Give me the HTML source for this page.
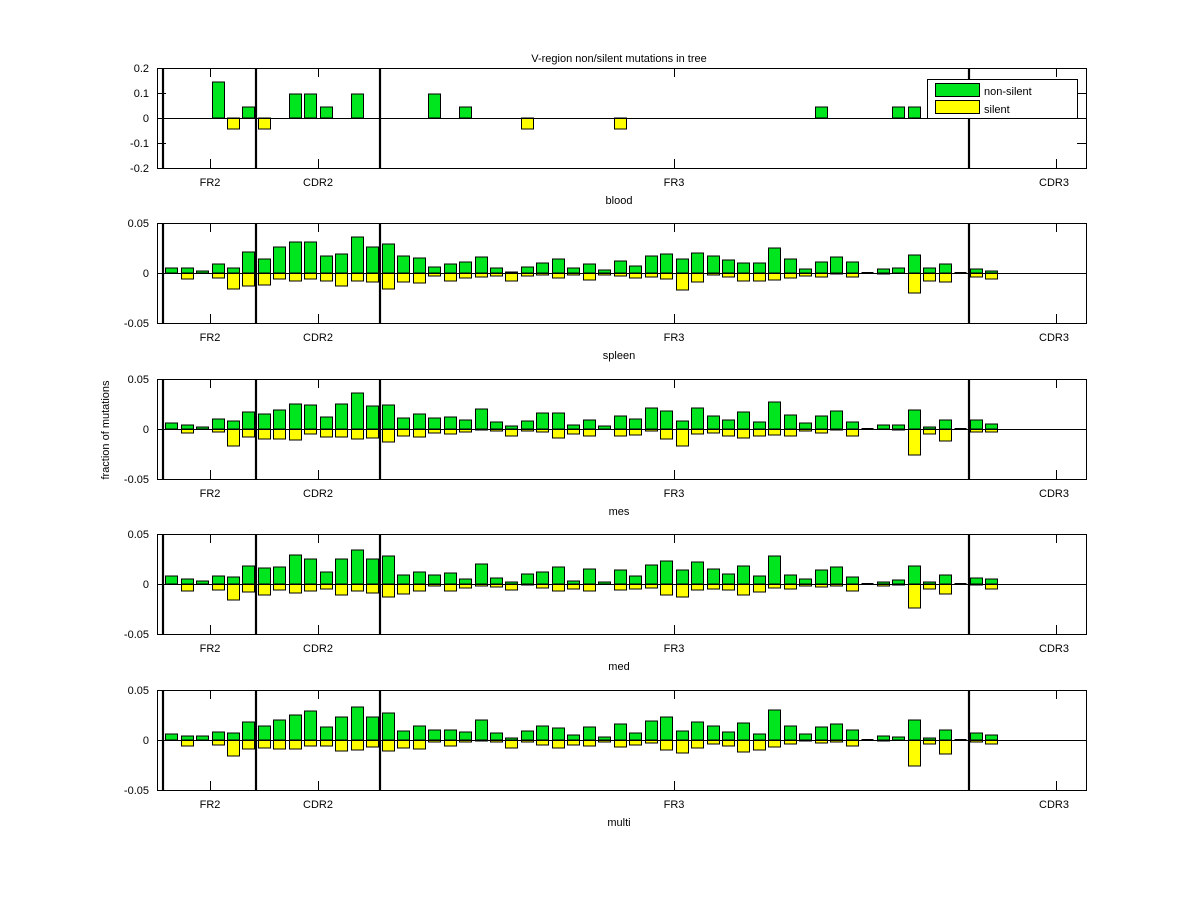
<!DOCTYPE html>
<html><head><meta charset="utf-8"><style>
html,body{margin:0;padding:0;background:#fff;}
svg text{font-family:"Liberation Sans",sans-serif;font-size:11px;fill:#000;}
</style></head><body>
<svg id="s" width="1200" height="901" xmlns="http://www.w3.org/2000/svg">
<rect width="1200" height="901" fill="#fff"/>
<text x="619" y="62" text-anchor="middle">V-region non/silent mutations in tree</text>
<text transform="translate(109,430) rotate(-90)" text-anchor="middle">fraction of mutations</text>
<g id="bars"></g>
<g id="axes" fill="none" stroke="#000"></g>
<g id="labels">
<text x="149" y="72" text-anchor="end">0.2</text>
<text x="149" y="97" text-anchor="end">0.1</text>
<text x="149" y="122" text-anchor="end">0</text>
<text x="149" y="147" text-anchor="end">-0.1</text>
<text x="149" y="172" text-anchor="end">-0.2</text>
<text x="149" y="227" text-anchor="end">0.05</text><text x="149" y="277" text-anchor="end">0</text><text x="149" y="327" text-anchor="end">-0.05</text>
<text x="149" y="383" text-anchor="end">0.05</text><text x="149" y="433" text-anchor="end">0</text><text x="149" y="483" text-anchor="end">-0.05</text>
<text x="149" y="538" text-anchor="end">0.05</text><text x="149" y="588" text-anchor="end">0</text><text x="149" y="638" text-anchor="end">-0.05</text>
<text x="149" y="694" text-anchor="end">0.05</text><text x="149" y="744" text-anchor="end">0</text><text x="149" y="794" text-anchor="end">-0.05</text>
<text x="210" y="186" text-anchor="middle">FR2</text><text x="318" y="186" text-anchor="middle">CDR2</text><text x="674" y="186" text-anchor="middle">FR3</text><text x="1054" y="186" text-anchor="middle">CDR3</text>
<text x="619" y="204" text-anchor="middle">blood</text>
<text x="210" y="341" text-anchor="middle">FR2</text><text x="318" y="341" text-anchor="middle">CDR2</text><text x="674" y="341" text-anchor="middle">FR3</text><text x="1054" y="341" text-anchor="middle">CDR3</text>
<text x="619" y="359" text-anchor="middle">spleen</text>
<text x="210" y="497" text-anchor="middle">FR2</text><text x="318" y="497" text-anchor="middle">CDR2</text><text x="674" y="497" text-anchor="middle">FR3</text><text x="1054" y="497" text-anchor="middle">CDR3</text>
<text x="619" y="515" text-anchor="middle">mes</text>
<text x="210" y="652" text-anchor="middle">FR2</text><text x="318" y="652" text-anchor="middle">CDR2</text><text x="674" y="652" text-anchor="middle">FR3</text><text x="1054" y="652" text-anchor="middle">CDR3</text>
<text x="619" y="670" text-anchor="middle">med</text>
<text x="210" y="808" text-anchor="middle">FR2</text><text x="318" y="808" text-anchor="middle">CDR2</text><text x="674" y="808" text-anchor="middle">FR3</text><text x="1054" y="808" text-anchor="middle">CDR3</text>
<text x="619" y="826" text-anchor="middle">multi</text>
</g>
<g id="legend">
<rect x="927.5" y="79.5" width="150" height="39" fill="#fff" stroke="#000"/>
<rect x="935.5" y="83.5" width="44" height="13" fill="#00e61e" stroke="#000"/>
<rect x="935.5" y="100.5" width="44" height="13" fill="#ffff00" stroke="#000"/>
<text x="984" y="95">non-silent</text>
<text x="984" y="113">silent</text>
</g>
</svg>
<script>
var NS="http://www.w3.org/2000/svg";
function el(t,a,p){var e=document.createElementNS(NS,t);for(var k in a)e.setAttribute(k,a[k]);p.appendChild(e);return e;}
var tops=[68,223,379,534,690];
var g1=new Array(54).fill(0),y1=new Array(54).fill(0);
var G1={3:36,5:11,8:24,9:24,10:11,12:24,17:24,19:11,42:11,47:11,48:11},Y1={4:11,6:11,23:11,29:11};
for(var k in G1)g1[k]=G1[k];for(var k in Y1)y1[k]=Y1[k];
var G=[g1,
[5,5,2,9,5,21,14,26,31,31,17,19,36,26,29,17,15,6,9,11,16,5,1,6,10,14,5,9,3,12,7,17,19,14,20,17,13,10,10,25,14,4,11,16,11,0,4,5,18,5,9,0,4,2],
[6,4,2,10,8,17,15,19,25,24,12,25,36,23,24,11,15,11,12,9,20,7,3,8,16,16,4,9,3,13,10,21,18,8,21,13,9,17,7,27,14,6,13,18,7,0,4,4,19,2,9,0,9,5],
[8,5,3,8,7,18,16,17,29,25,12,25,34,25,28,9,12,9,11,5,20,6,2,10,12,17,3,15,2,14,8,19,23,14,22,15,10,18,8,28,9,5,14,17,7,0,2,4,18,2,9,0,6,5],
[6,4,4,8,7,18,14,20,25,29,13,23,33,23,27,9,14,10,10,8,20,7,2,9,14,12,5,13,3,16,7,19,23,9,18,14,8,17,6,30,14,6,13,16,10,0,4,3,20,2,10,0,7,5]];
var Y=[y1,
[0,6,0,5,16,13,12,6,8,6,8,13,8,9,16,9,10,3,8,5,4,3,8,3,2,5,2,7,2,3,5,4,6,17,9,2,4,8,8,7,5,3,4,1,4,0,1,0,20,8,9,0,4,6],
[0,4,0,3,17,8,10,10,11,5,8,8,10,9,13,7,8,4,5,3,1,2,7,2,3,9,5,7,0,7,6,2,10,17,5,4,7,9,7,6,7,2,4,1,7,0,0,1,26,5,12,0,3,3],
[0,7,0,6,16,8,11,6,9,7,5,11,7,9,13,10,7,2,7,4,2,3,6,1,4,7,5,7,0,6,5,4,11,13,6,5,6,11,8,4,5,2,3,2,7,0,2,1,24,5,10,0,1,5],
[0,6,0,5,16,9,8,9,9,6,6,11,10,7,11,8,9,2,6,2,1,2,8,2,5,8,5,6,2,7,5,3,10,13,8,4,6,12,10,7,4,1,3,2,6,0,1,0,26,4,14,0,2,4]];
var bars=document.getElementById('bars'),ax=document.getElementById('axes');
for(var p=0;p<5;p++){
 var t=tops[p],z=t+50;
 for(var i=0;i<54;i++){
  var cx=171.3+15.47*i,x=Math.round(cx-6.2)+0.5,w=12;
  var g=G[p][i],y=Y[p][i];
  if(g>0)el('rect',{x:x,y:z-g,width:w,height:g,fill:'#00e61e',stroke:'#000','stroke-width':1},bars);
  if(y>0)el('rect',{x:x,y:z,width:w,height:y,fill:'#ffff00',stroke:'#000','stroke-width':1},bars);
  if(g==0&&y==0&&p>0)el('rect',{x:x,y:z-1,width:w,height:2,fill:'#000'},bars);
 }
 el('line',{x1:157,y1:z+0.5,x2:1086,y2:z+0.5},ax);
 el('rect',{x:157.5,y:t+0.5,width:929,height:100},ax);
 [163,256,380,969].forEach(function(v){el('line',{x1:v,y1:t,x2:v,y2:t+100,'stroke-width':2.2},ax);});
 [210,318,674,1056].forEach(function(v){el('line',{x1:v+0.5,y1:t,x2:v+0.5,y2:t+9},ax);el('line',{x1:v+0.5,y1:t+100,x2:v+0.5,y2:t+91},ax);});
 var yt=p==0?[0,25,50,75,100]:[0,50,100];
 yt.forEach(function(d){var yy=t+d+0.5;el('line',{x1:157,y1:yy,x2:166,y2:yy},ax);el('line',{x1:1086,y1:yy,x2:1077,y2:yy},ax);});
}
// keep legend on top
document.getElementById('s').appendChild(document.getElementById('legend'));
</script>
</body></html>
